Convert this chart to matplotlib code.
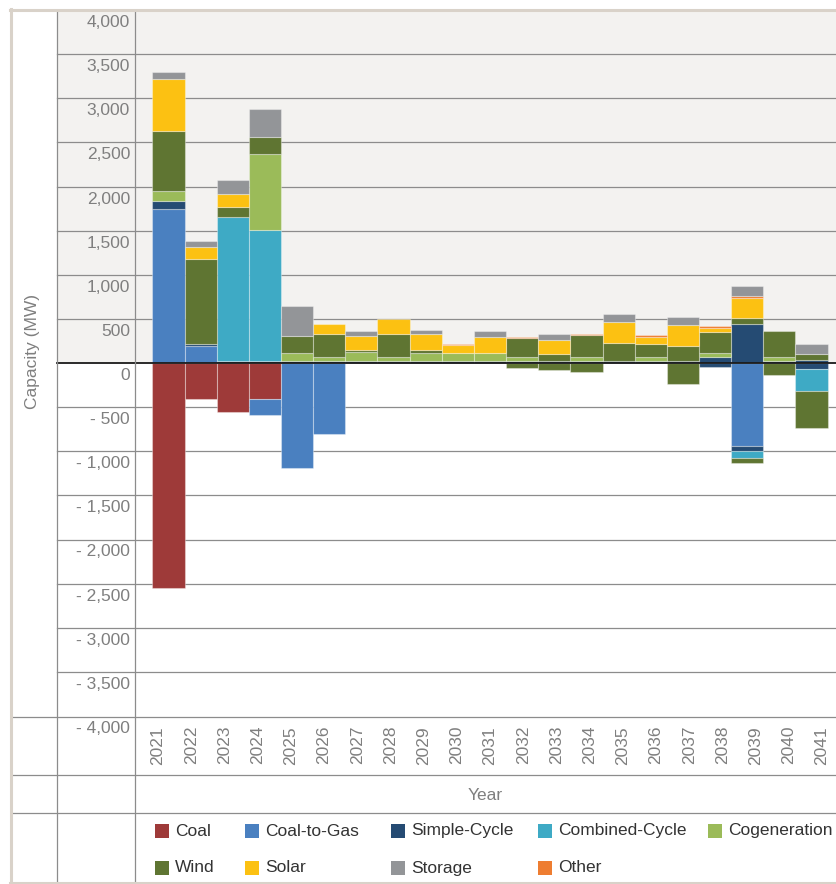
import numpy as np
import matplotlib.pyplot as plt
from matplotlib.lines import Line2D
from matplotlib.patches import Rectangle
import matplotlib.transforms as mtransforms

plt.rcParams['font.family'] = ['Liberation Sans', 'DejaVu Sans']

# capacity changes by year (MW), additions positive, retirements negative
years = list(range(2021, 2042))

coal_to_gas_add = [1750, 190, 0, 0, 0, 0, 0, 0, 0, 0, 0, 0, 0, 0, 0, 0, 0, 0, 0, 0, 0]
simple_add      = [90, 20, 25, 20, 20, 20, 20, 20, 20, 20, 20, 20, 20, 20, 20, 20, 20, 68, 443, 20, 30]
combined_add    = [0, 0, 1634, 1487, 0, 0, 0, 0, 0, 0, 0, 0, 0, 0, 0, 0, 0, 0, 0, 0, 0]
cogen_add       = [110, 0, 0, 856, 97, 52, 105, 48, 97, 97, 97, 48, 0, 48, 0, 48, 0, 49, 0, 48, 0]
wind_add        = [675, 968, 105, 197, 190, 254, 23, 258, 27, 0, 0, 212, 79, 254, 207, 152, 169, 235, 68, 296, 76]
solar_add       = [590, 132, 148, 0, 0, 114, 159, 177, 185, 84, 182, 0, 159, 0, 235, 79, 239, 49, 231, 0, 0]
other_add       = [0, 0, 0, 0, 0, 0, 0, 0, 0, 11, 0, 11, 0, 11, 0, 19, 0, 16, 19, 0, 0]
storage_add     = [85, 72, 167, 322, 337, 0, 53, 0, 46, 0, 61, 0, 71, 0, 98, 0, 94, 0, 106, 0, 110]

coal_ret        = [-2545, -405, -557, -413, 0, 0, 0, 0, 0, 0, 0, 0, 0, 0, 0, 0, 0, 0, 0, 0, 0]
coal_to_gas_ret = [0, 0, 0, -181, -1193, -810, 0, 0, 0, 0, 0, 0, 0, 0, 0, 0, 0, 0, -943, 0, 0]
simple_ret      = [0, 0, 0, 0, 0, 0, 0, 0, 0, 0, 0, 0, 0, 0, 0, 0, 0, -45, -49, 0, -72]
combined_ret    = [0, 0, 0, 0, 0, 0, 0, 0, 0, 0, 0, 0, 0, 0, 0, 0, 0, 0, -84, 0, -250]
wind_ret        = [0, 0, 0, 0, 0, 0, 0, 0, 0, 0, 0, -60, -76, -99, 0, 0, -242, 0, -60, -140, -420]

colors = {
    'Coal': '#9e3a39',
    'Coal-to-Gas': '#4a80c0',
    'Simple-Cycle': '#254b73',
    'Combined-Cycle': '#3eaac5',
    'Cogeneration': '#9bbb59',
    'Wind': '#5f7532',
    'Solar': '#fcc112',
    'Storage': '#939598',
    'Other': '#ee7d31',
}

pos_stack = [('Coal-to-Gas', coal_to_gas_add), ('Simple-Cycle', simple_add),
             ('Combined-Cycle', combined_add), ('Cogeneration', cogen_add),
             ('Wind', wind_add), ('Solar', solar_add), ('Other', other_add),
             ('Storage', storage_add)]
neg_stack = [('Coal', coal_ret), ('Coal-to-Gas', coal_to_gas_ret),
             ('Simple-Cycle', simple_ret), ('Combined-Cycle', combined_ret),
             ('Wind', wind_ret)]

W, H = 836, 884
def fx(px):
    return px / W
def fy(py):
    return 1 - py / H

fig = plt.figure(figsize=(8.36, 8.84), dpi=100)
fig.patch.set_facecolor('white')

ax = fig.add_axes([fx(135), fy(716), fx(836) - fx(135), fy(10) - fy(716)])
ax.set_xlim(-1.04, 20.76)
ax.set_ylim(-4000, 4000)
ax.axis('off')

grey_txt = '#7f7f7f'
line_c = '#8c8c8c'
ax_left = (57 - 135) / 701
ytr = ax.get_yaxis_transform()

# shaded background above zero
ax.add_patch(Rectangle((ax_left, 0), 1 - ax_left, 4000, transform=ytr,
                       facecolor='#f3f2f0', edgecolor='none', clip_on=False, zorder=0))

# gridlines
for v in range(-3500, 4000, 500):
    if v == 0:
        continue
    ax.plot([ax_left, 1], [v, v], transform=ytr, color=line_c, lw=0.9,
            clip_on=False, zorder=1)

x = np.arange(len(years))
edge = (1, 1, 1, 0.35)
bottom = np.zeros(len(years))
for name, vals in pos_stack:
    vals = np.array(vals, dtype=float)
    m = vals != 0
    ax.bar(x[m], vals[m], bottom=bottom[m], width=1.0, color=colors[name],
           edgecolor=edge, linewidth=0.8, zorder=2)
    bottom += vals
bottom = np.zeros(len(years))
for name, vals in neg_stack:
    vals = np.array(vals, dtype=float)
    m = vals != 0
    ax.bar(x[m], vals[m], bottom=bottom[m], width=1.0, color=colors[name],
           edgecolor=edge, linewidth=0.8, zorder=2)
    bottom += vals

ax.plot([ax_left, 1], [0, 0], transform=ytr, color='#1a1a1a', lw=1.3,
        clip_on=False, zorder=3)

# y tick labels, sitting just under each gridline
off = mtransforms.ScaledTranslation(0, -0.05, fig.dpi_scale_trans)
for v in range(4000, -4001, -500):
    if v < 0:
        lab = '- ' + format(-v, ',')
    else:
        lab = format(v, ',')
    ax.text(-5 / 701, v, lab, transform=ytr + off, ha='right', va='top',
            fontsize=12.5, color=grey_txt)

# year labels row
lab_ax = fig.add_axes([fx(135), fy(775), fx(836) - fx(135), fy(717) - fy(775)])
lab_ax.set_xlim(-0.693, 20.42)
lab_ax.set_ylim(0, 1)
lab_ax.axis('off')
for i, yr in enumerate(years):
    lab_ax.text(i, 1 - 9 / 58, str(yr), rotation=90, ha='center', va='top',
                fontsize=12.5, color=grey_txt)

fig.text(fx(32), fy(352), 'Capacity (MW)', rotation=90, ha='center', va='center',
         fontsize=12.5, color=grey_txt)
fig.text(fx(485), fy(795), 'Year', ha='center', va='center',
         fontsize=12.5, color=grey_txt)

# table lines
def fline(x0, y0, x1, y1, c=line_c, lw=0.9):
    fig.add_artist(Line2D([fx(x0), fx(x1)], [fy(y0), fy(y1)], color=c, lw=lw))

fline(57, 10, 57, 884)
fline(135, 10, 135, 884)
fline(12, 717, 836, 717)
fline(12, 775, 836, 775)
fline(12, 813, 836, 813)

frame_c = '#d9d2c9'
fline(10.5, 9, 10.5, 884, c=frame_c, lw=2.2)
fline(10, 9.5, 836, 9.5, c=frame_c, lw=2.2)
fline(10, 883, 836, 883, c=frame_c, lw=2.2)

# legend
legend_rows = [
    [('Coal', 155), ('Coal-to-Gas', 245), ('Simple-Cycle', 391),
     ('Combined-Cycle', 538), ('Cogeneration', 708)],
    [('Wind', 155), ('Solar', 245), ('Storage', 391), ('Other', 538)],
]
for row_y, row in zip([831, 868], legend_rows):
    for name, px in row:
        fig.add_artist(Rectangle((fx(px), fy(row_y + 7)), 14 / W, 14 / H,
                                 transform=fig.transFigure, facecolor=colors[name],
                                 edgecolor='none'))
        fig.text(fx(px + 20), fy(row_y), name, ha='left', va='center',
                 fontsize=12.5, color='#333333')

fig.savefig('out.png', dpi=100)
